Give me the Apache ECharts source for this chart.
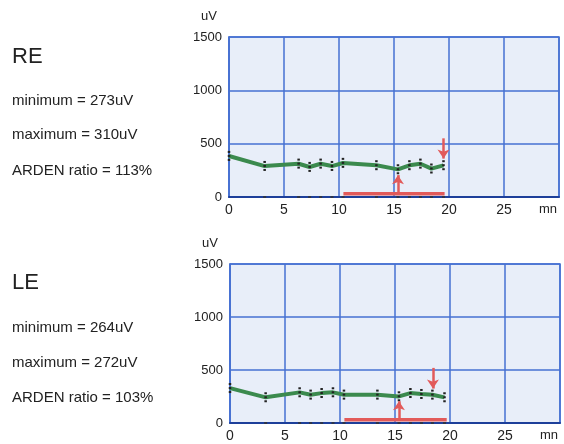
<!DOCTYPE html>
<html>
<head>
<meta charset="utf-8">
<script src="https://cdn.jsdelivr.net/npm/echarts@6/dist/echarts.min.js"></script>
<style>
  html, body { margin: 0; padding: 0; background: #fff; }
  #chart { width: 564px; height: 444px; }
</style>
</head>
<body>
<div id="chart"></div>
<script>
// ====== data ======
var times = [0, 3.24, 6.33, 7.33, 8.33, 9.36, 10.36, 13.4, 15.36, 16.4, 17.4, 18.4, 19.5];
var reVals = [384, 290, 312, 281, 312, 290, 319, 297, 259, 297, 312, 266, 297];
var leVals = [329, 242, 289, 267, 282, 289, 267, 267, 251, 282, 273, 267, 242];
var xTicks = [0, 5, 10, 15, 20, 25];
var yTicks = [0, 500, 1000, 1500];
var reText = ['RE', 'minimum = 273uV', 'maximum = 310uV', 'ARDEN ratio = 113%'];
var leText = ['LE', 'minimum = 264uV', 'maximum = 272uV', 'ARDEN ratio = 103%'];
// red light-period bar [start, end, level]
var reBar = [10.4, 19.6, 30];
var leBar = [10.4, 19.7, 30];
// arrows [x, from, to]
var reUp = [15.36, 30, 205];
var reDown = [19.5, 550, 360];
var leUp = [15.36, 30, 205];
var leDown = [18.45, 520, 325];

var chart = echarts.init(document.getElementById('chart'));
var font = 'Liberation Sans, Arial, sans-serif';
var gridBlue = '#4671d2';

function xAxisCfg(i) {
  return {
    gridIndex: i, type: 'value', min: 0, max: 30, interval: 5,
    axisLine: { show: true, onZero: false, lineStyle: { color: '#1d3f9a', width: 2 } },
    axisTick: { show: false },
    splitLine: { show: true, lineStyle: { color: gridBlue, width: 1.5 } },
    axisLabel: {
      color: '#222', fontSize: 14, fontFamily: font, margin: 6,
      formatter: function (v) { return xTicks.indexOf(v) >= 0 ? String(v) : ''; }
    }
  };
}
function yAxisCfg(i) {
  return {
    gridIndex: i, type: 'value', min: 0, max: 1500, interval: 500,
    name: 'uV', nameLocation: 'end', nameGap: 14,
    nameTextStyle: { color: '#222', fontSize: 13, fontFamily: font, align: 'right', padding: [0, 12, 0, 0] },
    axisLine: { show: true, lineStyle: { color: gridBlue, width: 1.5 } },
    axisTick: { show: false },
    splitLine: { show: true, lineStyle: { color: gridBlue, width: 1.5 } },
    axisLabel: {
      color: '#222', fontSize: 13, fontFamily: font, margin: 7,
      formatter: function (v) { return yTicks.indexOf(v) >= 0 ? String(v) : ''; }
    }
  };
}

function seriesFor(i, vals, bar, up, down) {
  var pts = times.map(function (t, k) { return [t, vals[k]]; });
  return [
    {
      type: 'line', xAxisIndex: i, yAxisIndex: i, data: pts,
      symbol: 'none', lineStyle: { color: '#3b8a4e', width: 4 }, z: 3,
      markLine: {
        silent: true, symbol: ['none', 'arrow'], symbolSize: [9, 9],
        label: { show: false },
        lineStyle: { color: '#e25a5a', width: 2.5, type: 'solid' },
        data: [
          [{ coord: [up[0], up[1]] }, { coord: [up[0], up[2]] }],
          [{ coord: [down[0], down[1]] }, { coord: [down[0], down[2]] }]
        ]
      }
    },
    {
      // red bar
      type: 'line', xAxisIndex: i, yAxisIndex: i,
      data: [[bar[0], bar[2]], [bar[1], bar[2]]],
      symbol: 'none', lineStyle: { color: '#e25a5a', width: 3.5 }, z: 2
    },
    {
      // dotted error marks
      type: 'custom', xAxisIndex: i, yAxisIndex: i, data: pts, z: 4,
      renderItem: function (params, api) {
        var a = api.coord([api.value(0), api.value(1) + 48]);
        var b = api.coord([api.value(0), api.value(1) - 48]);
        return {
          type: 'line',
          shape: { x1: a[0], y1: a[1], x2: b[0], y2: b[1] },
          style: { stroke: '#222', lineWidth: 2.5, lineDash: [2, 2] }
        };
      }
    },
    {
      // dots on the time axis
      type: 'scatter', xAxisIndex: i, yAxisIndex: i,
      data: times.slice(1).map(function (t) { return [t, 0]; }),
      symbol: 'rect', symbolSize: [3, 2], itemStyle: { color: '#333' }, z: 5
    }
  ];
}

function textBlock(lines, ys) {
  return lines.map(function (s, k) {
    return {
      type: 'text', left: 12, top: ys[k],
      style: { text: s, fill: '#222', font: (k === 0 ? '22px ' : '15px ') + font }
    };
  });
}

var option = {
  backgroundColor: '#fff',
  animation: false,
  grid: [
    { left: 229, top: 37, width: 330, height: 160, show: true, backgroundColor: '#e8eef9', borderColor: gridBlue, borderWidth: 1.5 },
    { left: 230, top: 264, width: 330, height: 159, show: true, backgroundColor: '#e8eef9', borderColor: gridBlue, borderWidth: 1.5 }
  ],
  xAxis: [xAxisCfg(0), xAxisCfg(1)],
  yAxis: [yAxisCfg(0), yAxisCfg(1)],
  series: seriesFor(0, reVals, reBar, reUp, reDown).concat(seriesFor(1, leVals, leBar, leUp, leDown)),
  graphic: textBlock(reText, [46, 93, 127, 163])
    .concat(textBlock(leText, [272, 320, 355, 390]))
    .concat([
      { type: 'text', left: 539, top: 203, style: { text: 'mn', fill: '#222', font: '13px ' + font } },
      { type: 'text', left: 540, top: 429, style: { text: 'mn', fill: '#222', font: '13px ' + font } }
    ])
};
chart.setOption(option);
</script>
</body>
</html>
